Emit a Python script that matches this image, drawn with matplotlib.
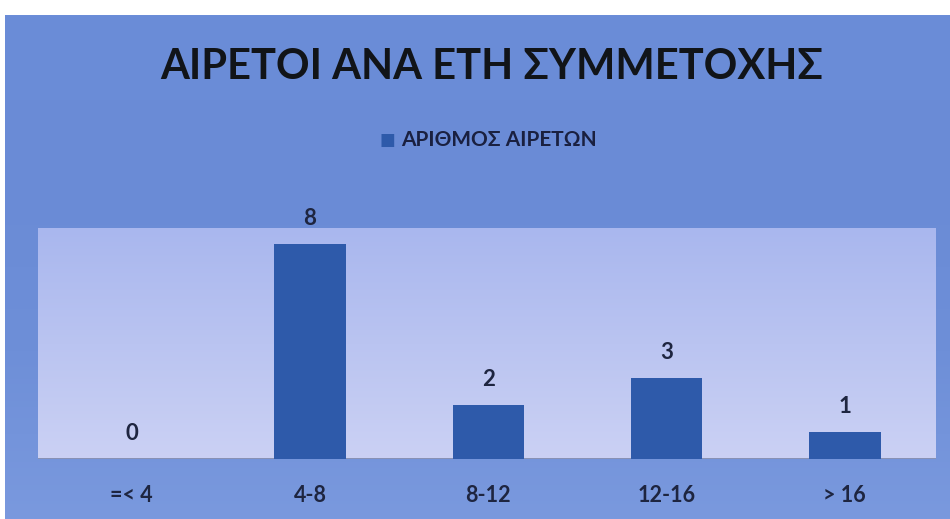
import numpy as np
import matplotlib.pyplot as plt
from matplotlib.colors import LinearSegmentedColormap

categories = ['=< 4', '4-8', '8-12', '12-16', '> 16']
values = [0, 8, 2, 3, 1]
title = 'ΑΙΡΕΤΟΙ ΑΝΑ ΕΤΗ ΣΥΜΜΕΤΟΧΗΣ'
series_name = 'ΑΡΙΘΜΟΣ ΑΙΡΕΤΩΝ'

plt.rcParams['font.family'] = ['Lato', 'DejaVu Sans']

W, H = 950, 519
fig = plt.figure(figsize=(W / 100, H / 100), dpi=100, facecolor='white')

# blue outer panel with soft vertical gradient
bg = fig.add_axes([5 / W, 0, 945 / W, (H - 15) / H])
bg_cmap = LinearSegmentedColormap.from_list('bg', ['#7a99de', '#6e8fd8', '#6a8bd6', '#6b8dd8'])
bg.imshow(np.linspace(0, 1, 256).reshape(-1, 1), aspect='auto', cmap=bg_cmap,
          extent=[0, 1, 0, 1], origin='lower')
bg.set_axis_off()

# lighter plot area
pa = fig.add_axes([38 / W, (H - 459) / H, (936 - 38) / W, (459 - 228) / H])
pa_cmap = LinearSegmentedColormap.from_list('pa', ['#cbd1f4', '#a9b7ee'])
pa.imshow(np.linspace(0, 1, 256).reshape(-1, 1), aspect='auto', cmap=pa_cmap,
          extent=[0, 1, 0, 1], origin='lower')
pa.set_axis_off()

ax = fig.add_axes([42.5 / W, (H - 459) / H, (934 - 42.5) / W, (459 - 228) / H])
ax.patch.set_visible(False)

x = np.arange(len(categories))
bars = ax.bar(x, values, width=0.4, color='#2e5aaa', zorder=2)
ax.bar_label(bars, padding=11, fontsize=16, fontweight='bold', color='#1e2540')
ax.set_xlim(-0.5, len(categories) - 0.5)
ax.set_ylim(0, 8.6)
pa.axhline(0, color='#7d86a8', lw=1.2, zorder=3)

ax.set_yticks([])
ax.set_xticks(x)
ax.set_xticklabels(categories, fontsize=15.5, fontweight='bold', color='#1e2540')
ax.tick_params(axis='x', length=0, pad=19)
for s in ax.spines.values():
    s.set_visible(False)

fig.text(492 / W, 1 - 67 / H, title, ha='center', va='center',
         fontsize=30, fontweight='bold', color='#111418')

# legend
fig.text(387.5 / W, 1 - 139.5 / H, '■', ha='center', va='center', fontsize=12,
         color='#2e5aaa', family=['DejaVu Sans'])
fig.text(401 / W, 1 - 139.5 / H, series_name, ha='left', va='center',
         fontsize=15, fontweight='bold', color='#1a2040')

fig.savefig('out.png', dpi=100, facecolor='white')
